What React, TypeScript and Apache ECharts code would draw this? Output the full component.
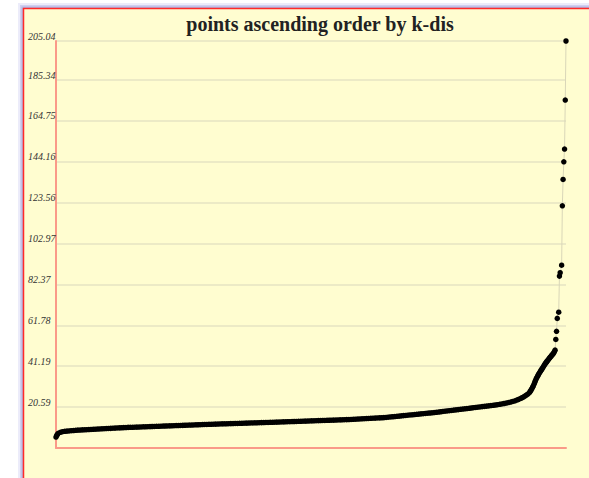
import React, { useEffect, useRef } from "react";
import * as echarts from "echarts";

// rank of each point (points sorted ascending by k-dis)
const ranks = [
  0, 1, 2, 3, 6, 9, 12, 15, 18, 21, 24, 27,
  30, 33, 36, 39, 42, 45, 48, 51, 54, 57, 60, 63, 66, 69, 72, 75, 78, 81, 84, 87, 90, 93, 96, 99,
  102, 105, 108, 111, 114, 117, 120, 123, 126, 129, 132, 135, 138, 141, 144, 147, 150, 153, 156, 159,
  162, 165, 168, 171, 174, 177, 180, 183, 186, 189, 192, 195, 198,
  201, 204, 207, 210, 213, 216, 219, 222, 225, 228, 231, 234, 237, 240, 243, 246, 249, 252, 255, 258,
  261, 264, 267, 270, 273, 276, 279, 282, 285, 288, 291, 294, 297,
  300, 303, 306, 309, 312, 315, 318, 321, 324, 327, 330, 333, 336, 339, 342, 345, 348, 351, 354, 357,
  360, 363, 366, 369, 372, 375, 378, 381, 384, 387, 390, 393, 396, 399,
  402, 405, 408, 411, 414, 417, 420, 423, 426, 429, 432, 435, 438, 441, 444, 447, 450,
  453, 456, 459, 462, 465, 468, 471, 474, 477, 480, 483, 486, 489, 492, 495, 498, 501, 504, 507, 510,
  513, 516, 519,
  522, 525, 528, 531, 534, 537, 540, 543, 546, 549, 552, 555, 558, 561, 564, 567, 570, 573, 576, 579,
  582, 585, 588, 591, 594, 597, 600,
  603, 606, 609, 612, 615, 618, 621, 624, 627, 630, 633, 635, 638, 640, 642, 644, 646, 648, 650,
  651, 652, 653, 654, 655, 656, 657, 658, 659, 660, 661, 662, 663, 664, 665, 666, 667, 668, 669, 670,
  671, 672, 673, 674, 675, 676, 677, 678, 679, 680, 681, 682, 683, 684, 685,
  686, 687, 688, 690, 691, 692, 694, 695, 696, 697, 698, 699, 700,
];

// k-distance of each point
const kdis = [
  5.5, 6.3, 6.9, 7.4, 7.9, 8.2, 8.4, 8.5, 8.6, 8.7, 8.8, 8.9,
  9.0, 9.06, 9.12, 9.18, 9.24, 9.3, 9.36, 9.42, 9.48, 9.54, 9.6, 9.66, 9.72, 9.78, 9.84, 9.9, 9.96, 10.02, 10.08, 10.14, 10.2, 10.26, 10.32, 10.38,
  10.41, 10.45, 10.49, 10.53, 10.57, 10.62, 10.66, 10.7, 10.74, 10.78, 10.83, 10.87, 10.91, 10.95, 10.99, 11.04, 11.08, 11.12, 11.16, 11.2,
  11.25, 11.29, 11.33, 11.37, 11.41, 11.46, 11.5, 11.54, 11.58, 11.62, 11.67, 11.71, 11.75,
  11.81, 11.85, 11.88, 11.92, 11.96, 11.99, 12.03, 12.06, 12.1, 12.14, 12.17, 12.21, 12.24, 12.28, 12.32, 12.35, 12.39, 12.42, 12.46, 12.5,
  12.53, 12.57, 12.6, 12.64, 12.68, 12.71, 12.75, 12.78, 12.82, 12.86, 12.89, 12.93, 12.96,
  13.0, 13.04, 13.08, 13.12, 13.16, 13.2, 13.23, 13.27, 13.31, 13.35, 13.39, 13.43, 13.47, 13.51, 13.55, 13.59, 13.62, 13.66, 13.7, 13.74,
  13.78, 13.82, 13.86, 13.9, 13.94, 13.98, 14.01, 14.05, 14.09, 14.13, 14.17, 14.21, 14.25, 14.29,
  14.34, 14.4, 14.46, 14.52, 14.58, 14.64, 14.7, 14.76, 14.82, 14.88, 14.94, 15.0, 15.06, 15.12, 15.18, 15.24, 15.3,
  15.41, 15.52, 15.63, 15.74, 15.85, 15.96, 16.07, 16.19, 16.3, 16.41, 16.52, 16.63, 16.74, 16.85, 16.96, 17.07, 17.18, 17.29, 17.4, 17.52,
  17.63, 17.74, 17.85,
  17.99, 18.13, 18.26, 18.4, 18.53, 18.67, 18.8, 18.94, 19.07, 19.21, 19.34, 19.48, 19.61, 19.75, 19.88, 20.02, 20.15, 20.29, 20.42, 20.56,
  20.69, 20.83, 20.96, 21.1, 21.23, 21.37, 21.5,
  21.66, 21.83, 22.0, 22.2, 22.42, 22.65, 22.9, 23.15, 23.45, 23.8, 24.2, 24.5, 25.0, 25.4, 25.8, 26.3, 26.8, 27.3, 28.0,
  28.6, 29.2, 29.8, 30.5, 31.2, 32.1, 33.0, 33.9, 34.8, 35.5, 36.2, 36.9, 37.5, 38.1, 38.7, 39.3, 39.8, 40.4, 41.0, 41.6,
  42.2, 42.7, 43.2, 43.7, 44.2, 44.7, 45.1, 45.6, 46.0, 46.5, 46.9, 47.4, 47.8, 48.5, 49.3,
  54.7, 58.8, 65.3, 68.4, 86.6, 88.3, 92.1, 122.0, 135.3, 144.2, 150.6, 175.3, 205.04,
];

const yTickLabels = [
  "20.59", "41.19", "61.78", "82.37", "102.97", "123.56", "144.16", "164.75",
  "185.34", "205.04",
];
const yMax = 205.04;
const yStep = 20.5937;
const rankMax = 700;
const titleText = "points ascending order by k-dis";

export default function App() {
  const ref = useRef<HTMLDivElement>(null);
  useEffect(() => {
    if (!ref.current) return;
    const chart = echarts.init(ref.current, null, { renderer: "svg" });
    const data = ranks.map((r, i) => [r, kdis[i]]);
    chart.setOption({
      animation: false,
      backgroundColor: "#ffffff",
      graphic: [
        { type: "rect", z: -10, shape: { x: 18, y: 3, width: 600, height: 500 }, style: { fill: "rgba(200,200,240,0.35)" } },
        { type: "rect", z: -10, shape: { x: 20, y: 5, width: 600, height: 500 }, style: { fill: "rgba(180,180,230,0.5)" } },
        { type: "rect", z: -10, shape: { x: 21.5, y: 6.5, width: 600, height: 500 }, style: { fill: "#b4b4e2" } },
        { type: "rect", z: -9, shape: { x: 23, y: 8, width: 600, height: 500 }, style: { fill: "#fffdd0" } },
        { type: "line", z: -8, shape: { x1: 23, y1: 8.5, x2: 589, y2: 8.5 }, style: { stroke: "#ff2a2a", lineWidth: 1.5 } },
        { type: "line", z: -8, shape: { x1: 23.5, y1: 8, x2: 23.5, y2: 478 }, style: { stroke: "#ff2a2a", lineWidth: 1.5 } },
        {
          type: "text",
          x: 320,
          y: 14,
          style: {
            text: titleText,
            fill: "#222",
            font: "bold 20px 'Liberation Serif', 'Times New Roman', serif",
            textAlign: "center",
            textVerticalAlign: "top",
          },
        },
      ],
      grid: { left: 56, right: 23, top: 41, bottom: 30, containLabel: false },
      xAxis: {
        type: "value",
        min: 0,
        max: rankMax,
        axisLine: { show: true, onZero: false, lineStyle: { color: "#fa9a88", width: 2 } },
        axisTick: { show: false },
        axisLabel: { show: false },
        splitLine: { show: false },
      },
      yAxis: {
        type: "value",
        min: 0,
        max: yMax,
        interval: yStep,
        axisLine: { show: true, lineStyle: { color: "#fa9a88", width: 2 } },
        axisTick: { show: false },
        axisLabel: {
          showMinLabel: false,
          align: "left",
          verticalAlign: "bottom",
          margin: 28,
          color: "#333",
          fontStyle: "italic",
          fontSize: 10,
          fontFamily: "'Liberation Serif', 'Times New Roman', serif",
          formatter: (v: number, i: number) => (i === 0 ? "" : yTickLabels[i - 1] ?? ""),
        },
        splitLine: { show: true, lineStyle: { color: "#e6e3c3", width: 1.5 } },
      },
      series: [
        {
          type: "line",
          data,
          symbol: "circle",
          symbolSize: 5.5,
          showSymbol: true,
          itemStyle: { color: "#000" },
          lineStyle: { color: "#d9d6b8", width: 1 },
        },
      ],
    });
    return () => chart.dispose();
  }, []);
  return (
    <div
      ref={ref}
      style={{ position: "fixed", left: 0, top: 0, width: 589, height: 478 }}
    />
  );
}
